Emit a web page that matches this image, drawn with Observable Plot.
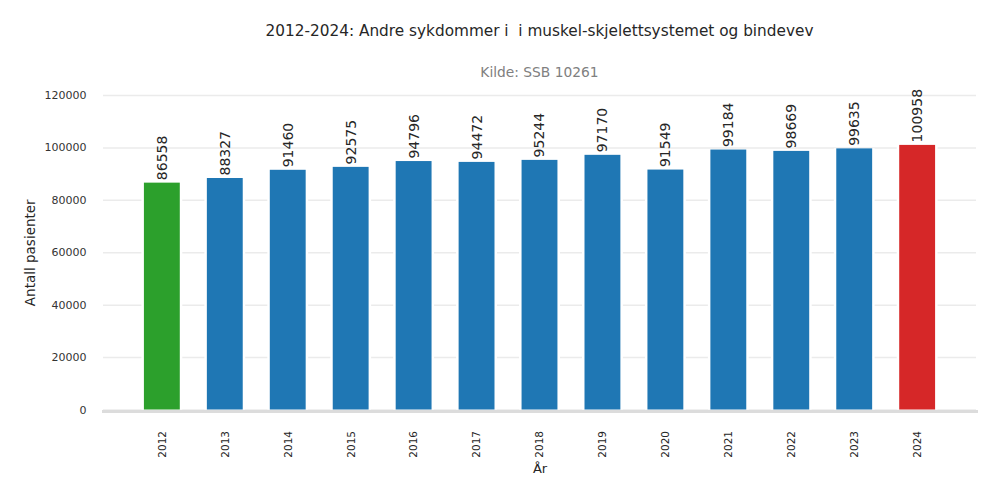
<!DOCTYPE html>
<html>
<head>
<meta charset="utf-8">
<script src="https://cdn.jsdelivr.net/npm/d3@7"></script>
<script src="https://cdn.jsdelivr.net/npm/@observablehq/plot@0.6"></script>
<style>
  body { margin: 0; background: #fff; font-family: "DejaVu Sans", sans-serif; }
  #wrap { position: relative; width: 1000px; height: 500px; }
  #title { position: absolute; left: 103px; width: 873px; top: 21px; text-align: center;
           font-size: 15.3px; color: #262626; white-space: pre; line-height: 20px; }
  #subtitle { position: absolute; left: 103px; width: 873px; top: 64px; text-align: center;
           font-size: 13.8px; color: #808080; white-space: pre; line-height: 16px; }
  #chart { position: absolute; left: 0; top: 0; }
</style>
</head>
<body>
<div id="wrap">
  <div id="chart"></div>
  <div id="title"></div>
  <div id="subtitle"></div>
</div>
<script>
const titleText = "2012-2024: Andre sykdommer i  i muskel-skjelettsystemet og bindevev";
const subtitleText = "Kilde: SSB 10261";
const years = ["2012","2013","2014","2015","2016","2017","2018","2019","2020","2021","2022","2023","2024"];
const values = [86558, 88327, 91460, 92575, 94796, 94472, 95244, 97170, 91549, 99184, 98669, 99635, 100958];
const yTicks = [0, 20000, 40000, 60000, 80000, 100000, 120000];
const colorFirst = "#2ca02c", colorMid = "#1f77b4", colorLast = "#d62728";

document.getElementById("title").textContent = titleText;
document.getElementById("subtitle").textContent = subtitleText;

const data = years.map((y, i) => ({
  year: y, value: values[i],
  color: i === 0 ? colorFirst : (i === years.length - 1 ? colorLast : colorMid)
}));

const chart = Plot.plot({
  width: 1000,
  height: 500,
  marginLeft: 103,
  marginRight: 24,
  marginTop: 95,
  marginBottom: 90.5,
  style: { fontFamily: "DejaVu Sans, sans-serif", background: "white" },
  x: { domain: years, paddingInner: 0.43, paddingOuter: 0.65, round: false, label: null },
  y: { domain: [0, 120000], label: null },
  marks: [
    Plot.gridY(yTicks, { stroke: "#ebebeb", strokeOpacity: 1, strokeWidth: 1.5 }),
    Plot.barY(data, { x: "year", y: "value", fill: "white", insetLeft: -2.5, insetRight: -2.5 }),
    Plot.barY(data, { x: "year", y: "value", fill: "color" }),
    Plot.ruleY([0], { stroke: "#dcdcdc", strokeWidth: 3, insetLeft: -1, insetRight: -2, dy: 1.5 }),
    Plot.text(data, { x: "year", y: "value", text: d => String(d.value), rotate: -90,
      textAnchor: "start", dy: -3, fontSize: 14, fill: "#262626" }),
    Plot.axisY(yTicks, { tickSize: 0, tickPadding: 17, tickFormat: d => String(d), fontSize: 11,
      fill: "#333", label: null }),
    Plot.axisX({ tickSize: 0, tickPadding: 21, tickRotate: -90, fontSize: 10.5, fill: "#262626", label: null }),
    Plot.text(["År"], { frameAnchor: "bottom", dy: 63, fontSize: 13, fill: "#262626" }),
    Plot.text(["Antall pasienter"], { frameAnchor: "left", textAnchor: "middle", dx: -73, rotate: -90,
      fontSize: 13.5, fill: "#262626" })
  ]
});
document.getElementById("chart").appendChild(chart);
</script>
</body>
</html>
